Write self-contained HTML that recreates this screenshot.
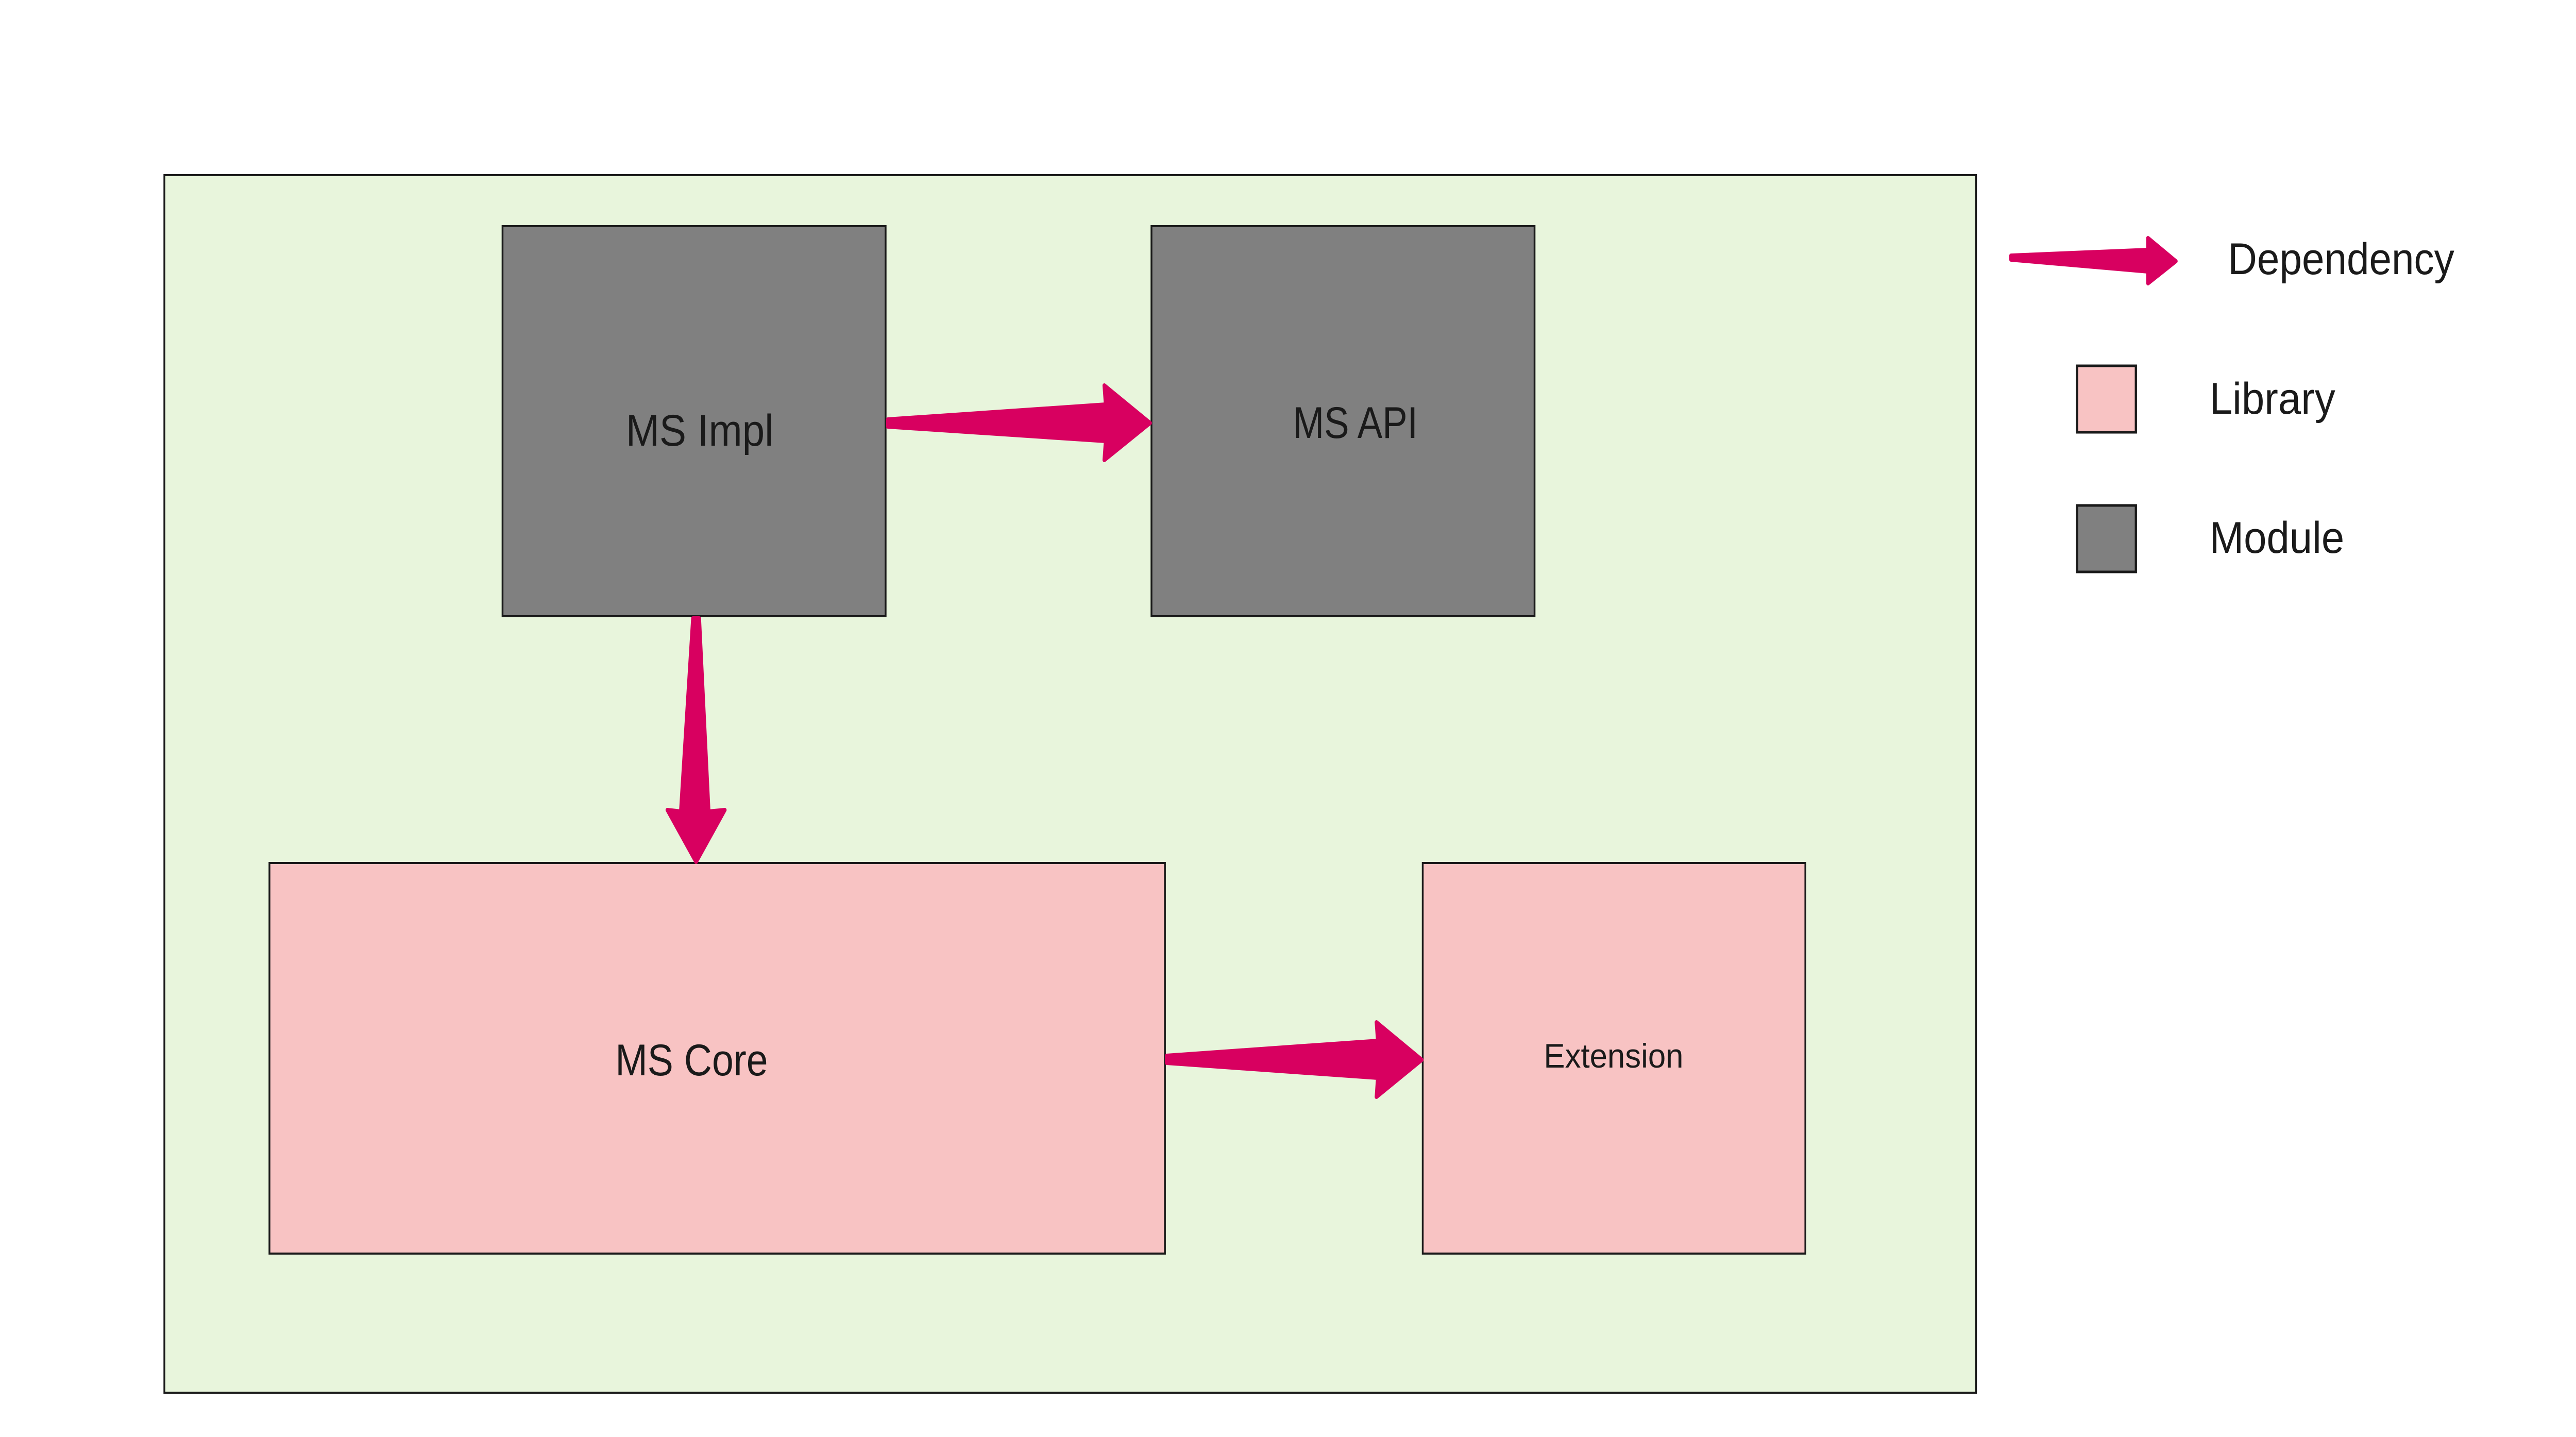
<!DOCTYPE html>
<html><head><meta charset="utf-8"><style>
html,body{margin:0;padding:0;background:#fff;overflow:hidden;width:100%;height:100%}
svg{display:block;width:100vw;height:100vh}
text{font-family:"Liberation Sans",sans-serif;fill:#1a1a1a}
</style></head><body>
<svg viewBox="0 0 5736 2789" preserveAspectRatio="none" xmlns="http://www.w3.org/2000/svg">
<rect x="366" y="340" width="4034" height="2363" fill="#e8f5dc" stroke="#1a1a1a" stroke-width="4"/>
<rect x="1119" y="439" width="853" height="757" fill="#808080" stroke="#1a1a1a" stroke-width="4"/>
<rect x="2564" y="439" width="853" height="757" fill="#808080" stroke="#1a1a1a" stroke-width="4"/>
<rect x="600" y="1675" width="1994" height="758" fill="#f8c3c3" stroke="#1a1a1a" stroke-width="4"/>
<rect x="3168" y="1675" width="852" height="758" fill="#f8c3c3" stroke="#1a1a1a" stroke-width="4"/>
<g fill="#d80060" stroke="#d80060" stroke-width="8" stroke-linejoin="round">
<polygon points="1977,814 2462,785 2459,748 2561,821 2459,893 2462,856 1977,828"/>
<polygon points="2598,2049 3068,2020 3065,1984 3166,2057 3065,2129 3068,2092 2598,2063"/>
<polygon points="1543,1200 1557,1200 1578,1575 1614,1572 1550,1673 1486,1572 1516,1575"/>
<polygon points="4478,496 4783,485 4783,462 4845,507 4783,550 4783,527 4478,504"/>
</g>
<rect x="4625" y="710" width="131" height="129" fill="#f8c3c3" stroke="#1a1a1a" stroke-width="5"/>
<rect x="4625" y="981" width="131" height="129" fill="#808080" stroke="#1a1a1a" stroke-width="5"/>
<text x="1558" y="865" font-size="86" text-anchor="middle" textLength="329" lengthAdjust="spacingAndGlyphs">MS Impl</text>
<text x="3018" y="850" font-size="86" text-anchor="middle" textLength="278" lengthAdjust="spacingAndGlyphs">MS API</text>
<text x="1540" y="2087" font-size="86" text-anchor="middle" textLength="340" lengthAdjust="spacingAndGlyphs">MS Core</text>
<text x="3593" y="2072" font-size="66" text-anchor="middle" textLength="311" lengthAdjust="spacingAndGlyphs">Extension</text>
<text x="4961" y="532" font-size="86" textLength="504" lengthAdjust="spacingAndGlyphs">Dependency</text>
<text x="4920" y="803" font-size="86" textLength="280" lengthAdjust="spacingAndGlyphs">Library</text>
<text x="4920" y="1073" font-size="86" textLength="300" lengthAdjust="spacingAndGlyphs">Module</text>
</svg>
</body></html>
